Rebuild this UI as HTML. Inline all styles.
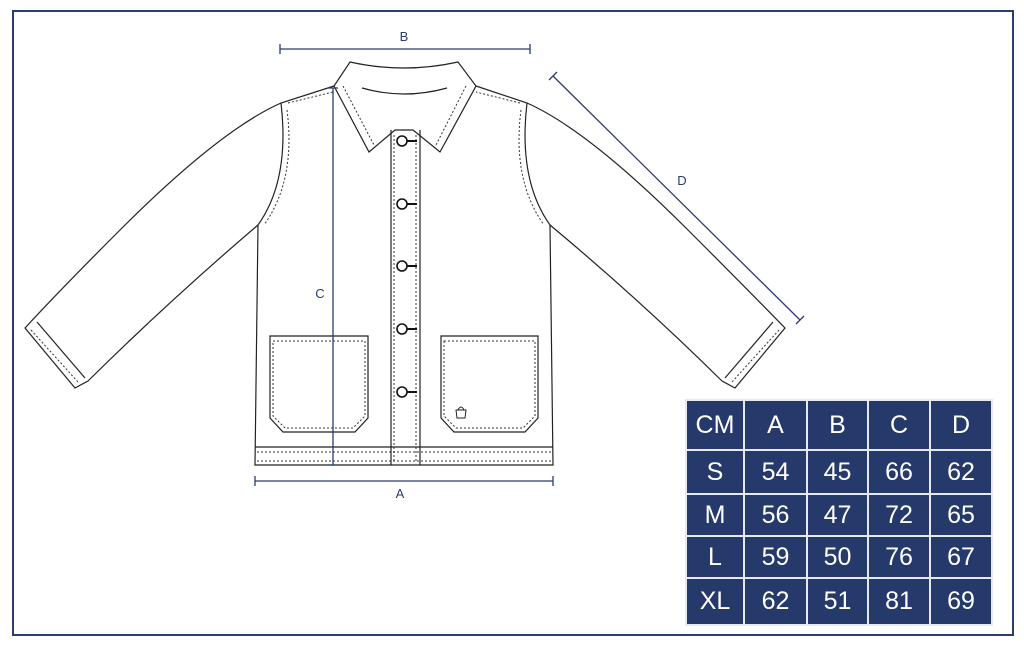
<!DOCTYPE html>
<html><head><meta charset="utf-8"><style>
body{margin:0;width:1024px;height:649px;background:#fff;overflow:hidden;font-family:"Liberation Sans",sans-serif}
svg{position:absolute;left:0;top:0}
table{position:absolute;left:685px;top:399px;width:306px;table-layout:fixed;border-collapse:collapse;background:#253a6b}
td{border:2px solid #e6e9f0;color:#fff;font-size:25px;text-align:center;padding:0}
</style></head><body>
<svg width="1024" height="649" viewBox="0 0 1024 649">
<rect x="13" y="11" width="1000" height="624" fill="none" stroke="#2a3d6e" stroke-width="2"/>
<g fill="none" stroke="#222" stroke-width="1.2">
<path d="M350,62 Q404,74 458,62 L476,86 L440,152 L413,130 L395,130 L369,152 L334,86 Z" fill="#fff"/>
<path d="M362,88 Q404,100 447,88"/>
<path d="M334,86 L281,103 Q290,180 258,225 L255,465 L553,465 L550,225 Q518,180 527,103 L476,86"/>
<path d="M281,103 Q220,130 120,230 Q60,290 25,328 L75,388 L88,381 Q170,300 258,225"/>
<path d="M37,322 L85,378"/>
<path d="M527,103 Q588,130 688,230 Q748,290 785,328 L735,388 L722,381 Q640,300 550,225"/>
<path d="M773,322 L725,378"/>
<path d="M255,447 L553,447"/>
<path d="M391,130 L391,465 M420,130 L420,465"/>
<path d="M270,336 L368,336 L368,418 L355,432 L283,432 L270,418 Z"/>
<path d="M441,336 L538,336 L538,418 L525,432 L454,432 L441,418 Z"/>
</g>
<g fill="none" stroke="#333" stroke-width="1" stroke-dasharray="2,2">
<path d="M343,86 L374,145 M466,86 L436,145"/>
<path d="M287,110 Q296,180 264,225 M521,110 Q512,180 544,225"/>
<path d="M288,103 L333,92 M520,103 L476,92"/>
<path d="M394,135 L394,462 M416,135 L416,462"/>
<path d="M257,452 L551,452 M257,461 L551,461"/>
<path d="M273,341 L365,341 L365,416 L353,428 L285,428 L273,416 Z"/>
<path d="M444,341 L535,341 L535,416 L523,428 L456,428 L444,416 Z"/>
<path d="M31,330 L78,382 M779,330 L732,382"/>
</g>
<g fill="#fff" stroke="#111" stroke-width="1.6">
<circle cx="402" cy="141" r="5"/><circle cx="402" cy="204" r="5"/><circle cx="402" cy="266" r="5"/><circle cx="402" cy="329" r="5"/><circle cx="402" cy="392" r="5"/>
</g>
<g stroke="#111" stroke-width="2"><path d="M407,141h10M407,204h10M407,266h10M407,329h10M407,392h10"/></g>
<path d="M456,410h10l-1,8h-8z M458,410q3,-6 6,0" fill="none" stroke="#222" stroke-width="1"/>
<g stroke="#2a3d6e" stroke-width="1.3" fill="none">
<path d="M280,49H530M280,44v10M530,44v10"/>
<path d="M333,88V465M328,88h10M328,465h10"/>
<path d="M255,481H553M255,476v10M553,476v10"/>
<path d="M553,76L800,320M549,80l8,-8M796,324l8,-8"/>
</g>
<g fill="#2a3d6e" font-size="13" text-anchor="middle">
<text x="404" y="41">B</text><text x="320" y="298">C</text><text x="400" y="498">A</text><text x="682" y="185">D</text>
</g>
</svg>
<table>
<colgroup><col style="width:58px"><col style="width:63px"><col style="width:61px"><col style="width:62px"><col style="width:62px"></colgroup>
<tr style="height:50px"><td>CM</td><td>A</td><td>B</td><td>C</td><td>D</td></tr>
<tr style="height:44px"><td>S</td><td>54</td><td>45</td><td>66</td><td>62</td></tr>
<tr style="height:42px"><td>M</td><td>56</td><td>47</td><td>72</td><td>65</td></tr>
<tr style="height:42px"><td>L</td><td>59</td><td>50</td><td>76</td><td>67</td></tr>
<tr style="height:47px"><td>XL</td><td>62</td><td>51</td><td>81</td><td>69</td></tr>
</table>
</body></html>
